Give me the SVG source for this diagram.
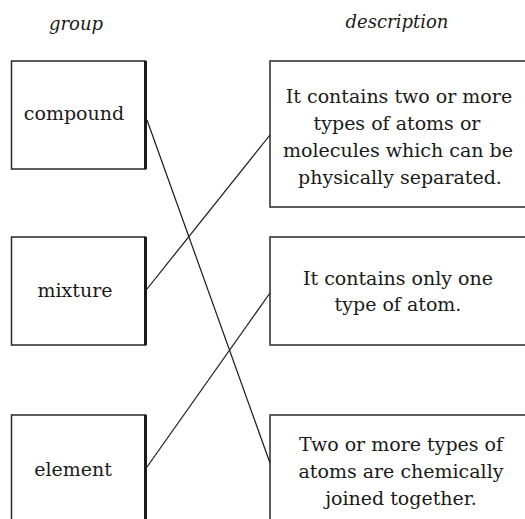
<svg xmlns="http://www.w3.org/2000/svg" width="525" height="519" viewBox="0 0 525 519">
  <style>
    .box { fill: #ffffff; stroke: #2a2a2a; stroke-width: 1.5; }
    .edge { stroke: #1a1a1a; stroke-width: 3; }
    .label { font-family: "DejaVu Serif", "Liberation Serif", serif; font-size: 19px; fill: #1a1a1a; text-anchor: middle; }
    .head { font-family: "DejaVu Serif", "Liberation Serif", serif; font-size: 18px; font-style: italic; fill: #1a1a1a; text-anchor: middle; }
    .link { stroke: #1a1a1a; stroke-width: 1.2; fill: none; }
  </style>
  <rect width="525" height="519" fill="#ffffff"/>

  <!-- column headings -->
  <text class="head" x="76" y="30">group</text>
  <text class="head" x="397" y="28">description</text>

  <!-- left column: groups -->
  <g id="compound">
    <rect class="box" x="11.5" y="61" width="134" height="108"/>
    <line class="edge" x1="145.5" y1="61" x2="145.5" y2="169"/>
    <text class="label" x="74" y="120">compound</text>
  </g>
  <g id="mixture">
    <rect class="box" x="11.5" y="237" width="134" height="108"/>
    <line class="edge" x1="145.5" y1="237" x2="145.5" y2="345"/>
    <text class="label" x="75" y="297">mixture</text>
  </g>
  <g id="element">
    <rect class="box" x="11.5" y="415" width="134" height="120"/>
    <line class="edge" x1="145.5" y1="415" x2="145.5" y2="535"/>
    <text class="label" x="73" y="476">element</text>
  </g>

  <!-- right column: descriptions -->
  <g id="desc-mixture">
    <rect class="box" x="270" y="61" width="270" height="146"/>
    <text class="label" x="399" y="103">It contains two or more</text>
    <text class="label" x="397" y="130">types of atoms or</text>
    <text class="label" x="398" y="157">molecules which can be</text>
    <text class="label" x="400" y="184">physically separated.</text>
  </g>
  <g id="desc-element">
    <rect class="box" x="270" y="237" width="270" height="108"/>
    <text class="label" x="398" y="285">It contains only one</text>
    <text class="label" x="398" y="311">type of atom.</text>
  </g>
  <g id="desc-compound">
    <rect class="box" x="270" y="415" width="270" height="120"/>
    <text class="label" x="401" y="451">Two or more types of</text>
    <text class="label" x="401" y="478">atoms are chemically</text>
    <text class="label" x="401" y="505">joined together.</text>
  </g>

  <!-- matching lines -->
  <g id="connectors">
    <line class="link" x1="147" y1="120" x2="270" y2="463"/>
    <line class="link" x1="147" y1="289" x2="270" y2="135"/>
    <line class="link" x1="147" y1="467" x2="270" y2="293"/>
  </g>
</svg>
